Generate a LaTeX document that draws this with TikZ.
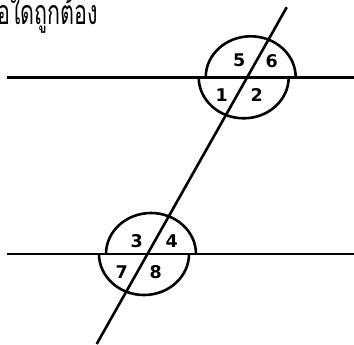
\documentclass[tikz,border=0pt]{standalone}
\usepackage{fontspec}
\newfontfamily\thaifont[Script=Thai]{Loma}
\newfontfamily\numfont{DejaVu Sans}
\usetikzlibrary{positioning,calc}

\begin{document}
\begin{tikzpicture}[x=1pt,y=-1pt,ln/.style={line width=2.6pt},num/.style={font=\numfont\bfseries\fontsize{17.5}{17.5}\selectfont,inner sep=0pt}]
\useasboundingbox (0,0) rectangle (354,345);
\node[anchor=base east,inner sep=0pt,xscale=0.63,font=\thaifont\fontsize{34}{34}\selectfont] (title) at (98,25) {ข้อใดถูกต้อง};
\coordinate (tA) at (96.7,344);
\coordinate (tB) at (286.7,7.3);
\coordinate (p1) at (247.2,77.3);
\coordinate (p2) at (147.5,254);
\coordinate (l1) at (6.7,77.3);
\coordinate (r1) at (354,77.3);
\coordinate (l2) at (6.7,254);
\coordinate (r2) at (354,254);
\draw[ln] (l1) -- (r1);
\draw[ln] (l2) -- (r2);
\draw[ln] (tA) -- (tB);
\foreach \p in {p1,p2}{
  \draw[ln] ($(\p)+(-41.5,0)$) arc[start angle=180,end angle=360,x radius=45,y radius=41];
  \draw[ln] ($(\p)+(-48.5,0)$) arc[start angle=180,end angle=0,x radius=45,y radius=41];
}
\foreach \x/\y/\lab in {221.7/95/1,256.7/95/2,136.7/240.7/3,171.7/240.7/4,239.3/60.7/5,271.7/60.7/6,121.7/271.7/7,155.7/271.7/8}{
  \node[num] (n\lab) at (\x,\y) {\lab};
}
\end{tikzpicture}
\end{document}
